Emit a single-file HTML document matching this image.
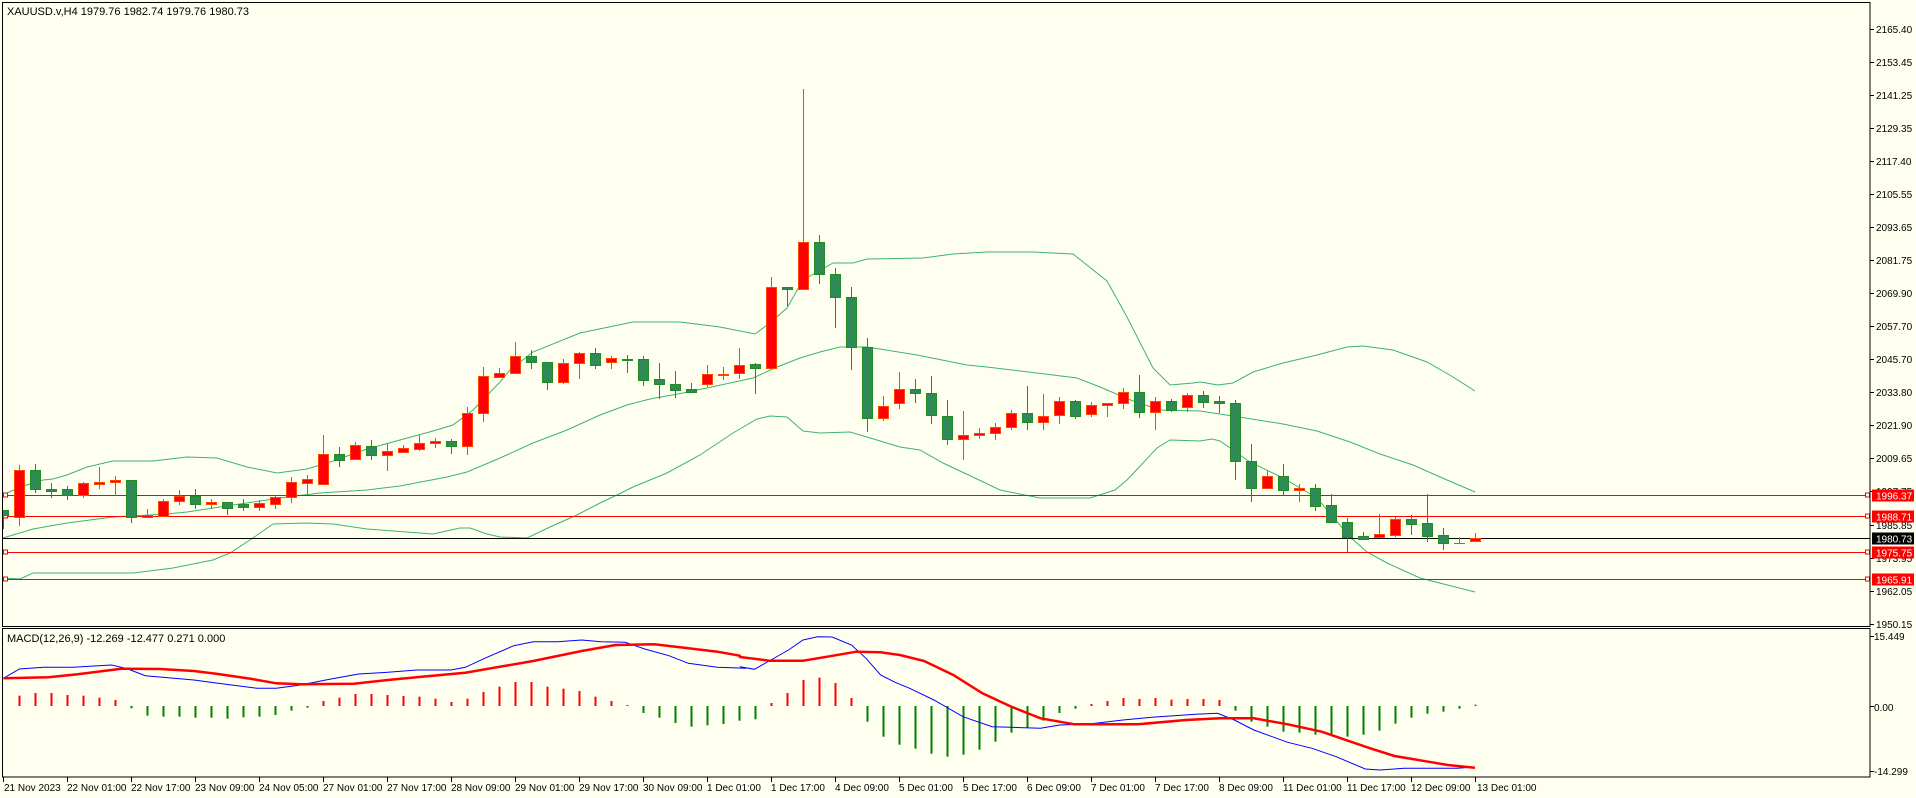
<!DOCTYPE html>
<html><head><meta charset="utf-8">
<style>
html,body{margin:0;padding:0;background:#FFFFF0;}
svg{display:block;}
text{font-family:"Liberation Sans",sans-serif;font-size:10px;fill:#000;}
text.h{font-size:11px;}
</style></head>
<body>
<svg id="s" width="1916" height="798" xmlns="http://www.w3.org/2000/svg">
<rect x="0" y="0" width="1916" height="798" fill="#FFFFF0"/>
<g id="bands" fill="none" stroke="#3CB371" stroke-width="1"></g>
<g id="hl"></g>
<g id="candles"></g>
<g id="macd"></g>
<rect x="2.5" y="2.5" width="1867.5" height="624" fill="none" stroke="#000"/>
<rect x="2.5" y="628.5" width="1867.5" height="148.5" fill="none" stroke="#000"/>
<text class="h" x="7" y="15">XAUUSD.v,H4  1979.76 1982.74 1979.76 1980.73</text>
<text class="h" x="7" y="642">MACD(12,26,9) -12.269 -12.477 0.271 0.000</text>
<g id="yax"></g>
<g id="xax"></g>
<g>
<text x="1876" y="33">2165.40</text>
<text x="1876" y="66">2153.45</text>
<text x="1876" y="99">2141.25</text>
<text x="1876" y="132">2129.35</text>
<text x="1876" y="165">2117.40</text>
<text x="1876" y="198">2105.55</text>
<text x="1876" y="231">2093.65</text>
<text x="1876" y="264">2081.75</text>
<text x="1876" y="297">2069.90</text>
<text x="1876" y="330">2057.70</text>
<text x="1876" y="363">2045.70</text>
<text x="1876" y="396">2033.80</text>
<text x="1876" y="429">2021.90</text>
<text x="1876" y="462">2009.65</text>
<text x="1876" y="495">1997.75</text>
<text x="1876" y="529">1985.85</text>
<text x="1876" y="562">1973.95</text>
<text x="1876" y="595">1962.05</text>
<text x="1876" y="628">1950.15</text>
<text x="1874" y="640">15.449</text>
<text x="1874" y="711">0.00</text>
<text x="1874" y="775">-14.299</text>
</g>
<g>
<text x="4" y="791">21 Nov 2023</text>
<text x="67" y="791">22 Nov 01:00</text>
<text x="131" y="791">22 Nov 17:00</text>
<text x="195" y="791">23 Nov 09:00</text>
<text x="259" y="791">24 Nov 05:00</text>
<text x="323" y="791">27 Nov 01:00</text>
<text x="387" y="791">27 Nov 17:00</text>
<text x="451" y="791">28 Nov 09:00</text>
<text x="515" y="791">29 Nov 01:00</text>
<text x="579" y="791">29 Nov 17:00</text>
<text x="643" y="791">30 Nov 09:00</text>
<text x="707" y="791">1 Dec 01:00</text>
<text x="771" y="791">1 Dec 17:00</text>
<text x="835" y="791">4 Dec 09:00</text>
<text x="899" y="791">5 Dec 01:00</text>
<text x="963" y="791">5 Dec 17:00</text>
<text x="1027" y="791">6 Dec 09:00</text>
<text x="1091" y="791">7 Dec 01:00</text>
<text x="1155" y="791">7 Dec 17:00</text>
<text x="1219" y="791">8 Dec 09:00</text>
<text x="1283" y="791">11 Dec 01:00</text>
<text x="1347" y="791">11 Dec 17:00</text>
<text x="1411" y="791">12 Dec 09:00</text>
<text x="1477" y="791">13 Dec 01:00</text>
</g>
<g id="tags"></g>
</svg>
<script>
var NS="http://www.w3.org/2000/svg";
function el(p,t,a){var e=document.createElementNS(NS,t);for(var k in a)e.setAttribute(k,a[k]);p.appendChild(e);return e;}
var C=[
"G 510 515 510 528","R 470 517 465 525","G 470 489 464 492","G 489 491 483 497","G 489 495 486 499","R 483 495 482 497","R 482 484 467 488","R 480 482 476 495","G 480 517 480 522","R 515 517 509 517",
"R 501 516 499 516","R 496 501 490 504","G 496 504 489 508","R 502 504 499 508","G 502 508 502 514","G 504 507 499 510","R 503 507 500 510","R 497 504 496 508","R 482 497 477 502","R 479 483 475 494",
"R 454 484 435 484","G 454 460 447 466","R 445 459 442 459","G 446 455 440 459","R 451 455 444 470","R 448 452 445 452","R 443 449 435 450","R 441 443 438 447","G 441 446 439 453","R 413 446 407 454",
"R 376 413 367 421","R 373 377 368 377","R 356 373 342 373","G 356 362 350 368","G 362 382 362 389","R 363 382 359 383","R 353 363 352 378","G 353 365 348 368","R 358 362 356 368","G 359 360 355 372",
"G 359 380 356 385","G 379 384 363 398","G 384 390 371 397","G 389 392 383 392","R 374 384 365 386","R 374 375 367 379","R 365 373 348 378","G 364 368 363 393","R 287 368 277 368","G 287 289 287 305",
"R 242 289 89 289","G 242 274 235 283","G 274 297 268 327","G 297 347 287 369","G 347 418 338 431","R 406 418 396 420","R 389 403 372 408","G 389 393 379 402","G 393 415 376 423","G 416 439 400 444",
"R 435 439 411 459","R 433 435 428 438","R 427 433 423 439","R 413 427 410 429","G 413 422 386 429","R 416 422 394 429","R 401 415 397 423","G 401 416 400 418","R 405 414 402 416","R 403 405 403 416",
"R 392 403 388 408","G 392 412 375 417","R 401 412 397 429","G 401 410 399 411","R 395 407 393 411","G 395 402 391 407","G 401 403 396 412","G 403 461 400 479","G 461 488 444 501","R 476 488 471 488",
"G 476 490 464 495","R 488 490 484 501","G 488 506 484 510","G 505 522 494 522","G 522 537 518 552","G 536 539 532 539","R 534 537 514 537","R 519 535 517 536","G 519 524 515 534","G 523 536 494 541",
"G 535 543 528 549","R 543 543 537 543","R 538 541 533 541"];
var cg=document.getElementById("candles");
C.forEach(function(s,i){var p=s.split(" ");var x=3+16*i;var t=+p[1],b=+p[2],wt=+p[3],wb=+p[4];
 var red=p[0]=="R";var st=red?"#FF4500":"#228B22",fl=red?"#FF0000":"#2E8B57";
 var x0=Math.max(x-5,3);
 el(cg,"line",{x1:x+0.5,x2:x+0.5,y1:wt,y2:wb+1,stroke:st,"stroke-width":1});
 if(b-t<1){el(cg,"line",{x1:x0,x2:x+6,y1:t+0.5,y2:t+0.5,stroke:st,"stroke-width":1});}
 else el(cg,"rect",{x:x0+0.5,y:t+0.5,width:(x+5)-x0,height:b-t,fill:fl,stroke:st,"stroke-width":1});
});
var U=[[3,495],[20,487],[43,480],[53,479],[67,475],[87,467],[113,461],[153,461],[187,457],[217,458],[247,467],[277,473],[307,469],[333,461],[367,449],[400,440],[433,431],[453,425],[473,410],[500,382],[510,370],[533,352],[580,333],[633,322],[680,322],[720,327],[755,334],[770,323],[787,308],[803,280],[817,272],[833,263],[853,263],[867,259],[923,258],[953,254],[987,252],[1033,252],[1073,254],[1107,281],[1127,317],[1153,368],[1170,385],[1193,383],[1200,382],[1218,385],[1233,383],[1253,372],[1283,363],[1317,355],[1347,347],[1363,346],[1393,350],[1427,362],[1453,377],[1475,391]];
var M=[[3,538],[33,529],[67,523],[113,517],[167,514],[187,512],[233,505],[287,497],[320,493],[367,490],[400,486],[447,477],[467,472],[500,458],[533,443],[567,430],[600,415],[627,405],[650,399],[683,393],[707,388],[753,378],[777,367],[800,358],[820,352],[840,347],[867,347],[917,355],[967,365],[987,367],[1053,375],[1077,378],[1100,387],[1133,401],[1160,410],[1200,411],[1233,416],[1283,424],[1317,431],[1350,442],[1380,454],[1413,465],[1447,480],[1475,492]];
var L=[[3,578],[20,579],[33,573],[133,573],[173,568],[213,560],[230,553],[253,538],[273,524],[307,523],[333,524],[367,529],[393,531],[433,534],[460,528],[470,528],[487,534],[500,537],[527,538],[550,527],[577,515],[600,503],[617,495],[633,487],[667,473],[700,455],[733,433],[757,419],[770,416],[787,417],[803,431],[820,433],[850,432],[867,437],[900,447],[920,450],[943,463],[977,479],[1000,490],[1040,498],[1090,498],[1115,490],[1127,480],[1157,448],[1170,440],[1200,441],[1212,439],[1220,441],[1250,462],[1283,478],[1317,498],[1350,537],[1367,552],[1387,563],[1420,578],[1475,592]];
var bg=document.getElementById("bands");
[U,M,L].forEach(function(a){el(bg,"polyline",{points:a.map(function(p){return p.join(",")}).join(" ")});});
var hl=document.getElementById("hl");
[495.5,516.5,552.5,579.5].forEach(function(y){
 el(hl,"line",{x1:3,x2:1870,y1:y,y2:y,stroke:"#FF0000","stroke-width":1});
 el(hl,"rect",{x:3.5,y:y-2.5,width:4,height:4,fill:"#FFFFF0",stroke:"#FF0000"});
 el(hl,"rect",{x:1865.5,y:y-2.5,width:4,height:4,fill:"#FFFFF0",stroke:"#FF0000"});
});
el(hl,"line",{x1:3,x2:1870,y1:538.5,y2:538.5,stroke:"#000","stroke-width":1});
var mg=document.getElementById("macd");
var H=[null,212,204,204,210,212,218,225,250,272,275,275,278,278,281,277,275,270,257,248,228,218,207,207,210,213,215,221,231,221,201,185,171,171,185,191,198,215,228,240,264,278,294,305,301,297,287,283,234,204,165,158,174,219,290,335,359,371,386,395,389,374,350,323,309,287,264,251,237,228,219,222,219,224,222,222,225,257,290,305,320,323,329,329,335,329,317,296,278,266,260,251,239];
H.forEach(function(Y,i){if(Y==null)return;var x=3+16*i;var y=625+Y/3;var base=706;
 var col=Y<242?"#FF0000":"#008000";
 el(mg,"rect",{x:x-0.5,y:Math.min(y,base),width:2,height:Math.max(1,Math.abs(y-base)),fill:col});
});
function z9(a){return a.map(function(p){return (p[0]/2.063).toFixed(1)+","+(625+p[1]/3).toFixed(1)}).join(" ");}
function z10(a){return a.map(function(p){return (740+p[0]/2.063).toFixed(1)+","+(625+p[1]/3).toFixed(1)}).join(" ");}
var B9=[[7,160],[40,132],[90,127],[150,127],[230,120],[260,130],[300,152],[400,165],[450,175],[530,190],[570,190],[620,180],[680,163],[740,147],[800,142],[860,135],[930,135],[960,127],[1000,100],[1060,62],[1100,50],[1150,50],[1200,45],[1240,50],[1290,52],[1330,72],[1380,92],[1420,115],[1480,127],[1540,130]];
var B10=[[0,125],[30,133],[60,108],[100,75],[130,45],[160,35],[190,36],[230,60],[260,100],[290,150],[320,172],[350,190],[400,225],[460,275],[520,305],[560,307],[620,310],[660,300],[720,297],[790,285],[850,277],[940,268],[985,265],[1020,285],[1060,315],[1130,352],[1180,370],[1230,395],[1290,432],[1320,435],[1370,430],[1480,430],[1516,426]];
var R9=[[7,160],[100,157],[160,148],[250,131],[330,132],[400,138],[450,147],[520,162],[570,175],[620,178],[730,176],[800,165],[870,155],[960,143],[1020,128],[1100,108],[1200,78],[1270,60],[1350,58],[1420,70],[1480,80],[1526,92]];
var R10=[[0,96],[60,107],[130,107],[180,95],[240,80],[290,82],[330,90],[380,108],[440,150],[500,205],[560,245],[620,280],[690,298],[820,298],[920,285],[990,280],[1060,280],[1130,298],[1200,320],[1260,350],[1300,370],[1350,393],[1420,410],[1460,420],[1516,428]];
el(mg,"polyline",{points:z9(B9)+" "+z10(B10),fill:"none",stroke:"#0000FF","stroke-width":1});
el(mg,"polyline",{points:z9(R9)+" "+z10(R10),fill:"none",stroke:"#FF0000","stroke-width":2.5});
var ya=document.getElementById("yax");
[29,62,95,128,161,194,227,260,293,326,359,392,425,458,491,525,558,591,624,636,706,771].forEach(function(y){el(ya,"line",{x1:1870,x2:1874,y1:y+0.5,y2:y+0.5,stroke:"#000"});});
var xa=document.getElementById("xax");
for(var k=0;k<24;k++){var x=3+64*k+0.5;el(xa,"line",{x1:x,x2:x,y1:777,y2:782,stroke:"#000"});}
var tg=document.getElementById("tags");
[[495.5,"#FF0000","1996.37"],[516.5,"#FF0000","1988.71"],[538.5,"#000000","1980.73"],[552.5,"#FF0000","1975.75"],[579.5,"#FF0000","1965.91"]].forEach(function(t){
 el(tg,"rect",{x:1872,y:t[0]-6,width:42,height:12,fill:t[1]});
 var e=el(tg,"text",{x:1876,y:t[0]+4});e.setAttribute("style","fill:#fff");e.textContent=t[2];
});
</script>
</body></html>
